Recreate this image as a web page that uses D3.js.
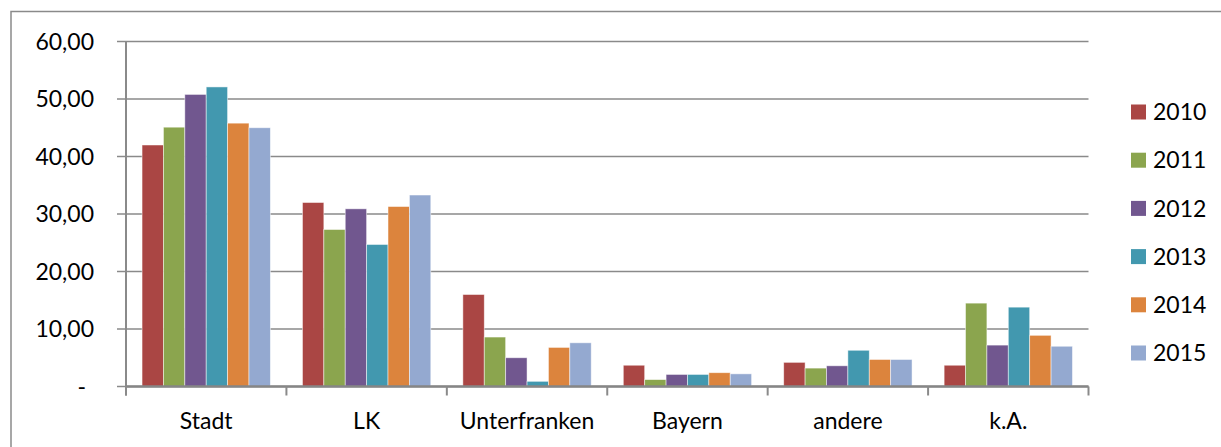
<!DOCTYPE html>
<html>
<head>
<meta charset="utf-8">
<script src="https://cdn.jsdelivr.net/npm/d3@7"></script>
<style>
  body { margin: 0; background: #fff; }
  svg text { font-family: Lato, "Open Sans", sans-serif; fill: #000; }
</style>
</head>
<body>
<div id="chart"></div>
<script>
// data
const categories = ["Stadt", "LK", "Unterfranken", "Bayern", "andere", "k.A."]
const years = ["2010", "2011", "2012", "2013", "2014", "2015"]
const v2010 = [42.0, 32.0, 16.0, 3.7, 4.2, 3.7]
const v2011 = [45.1, 27.3, 8.6, 1.2, 3.2, 14.5]
const v2012 = [50.8, 30.9, 5.0, 2.1, 3.6, 7.2]
const v2013 = [52.1, 24.7, 0.9, 2.1, 6.3, 13.8]
const v2014 = [45.8, 31.3, 6.8, 2.4, 4.7, 8.9]
const v2015 = [45.0, 33.3, 7.6, 2.2, 4.7, 7.0]
const yTicks = [0, 10, 20, 30, 40, 50, 60]
const colors = ["#AA4644", "#8BA54E", "#71578F", "#4298AF", "#DC843D", "#94A9D0"]

const series = [v2010, v2011, v2012, v2013, v2014, v2015]

const width = 1221, height = 447
const margin = {left: 126, right: 132.5, top: 41.5, bottom: 60.5}
const innerW = width - margin.left - margin.right
const innerH = height - margin.top - margin.bottom

let svg = d3.select("#chart")
    .append("svg")
    .attr("width", width)
    .attr("height", height)

// outer chart border
svg.append("rect")
    .attr("x", 11).attr("y", 11.5)
    .attr("width", width + 10).attr("height", height + 10)
    .attr("fill", "none")
    .attr("stroke", "#8a8a8a")
    .attr("stroke-width", 1.5)

let g = svg.append("g")
    .attr("transform", `translate(${margin.left}, ${margin.top})`)

let x0 = d3.scaleBand().domain(categories).range([0, innerW]).paddingInner(0.2).paddingOuter(0.1)
let x1 = d3.scaleBand().domain(years).range([0, x0.bandwidth()])
let y = d3.scaleLinear().domain([0, 60]).range([innerH, 0])

// gridlines with the little tick stubs left of the axis
g.append("g")
    .selectAll("line")
    .data(yTicks)
    .enter()
    .append("line")
    .attr("x1", -9).attr("x2", innerW)
    .attr("y1", d => y(d)).attr("y2", d => y(d))
    .attr("stroke", "#8a8a8a")
    .attr("stroke-width", 1.5)

// y labels
g.append("g")
    .selectAll("text")
    .data(yTicks)
    .enter()
    .append("text")
    .attr("x", d => d == 0 ? -40 : -32)
    .attr("y", d => y(d))
    .attr("dy", "0.36em")
    .attr("text-anchor", "end")
    .style("font-size", "23px")
    .text(d => d == 0 ? "-" : d3.format(".2f")(d).replace(".", ","))

// bars
let groups = g.append("g")
    .selectAll("g")
    .data(categories)
    .enter()
    .append("g")
    .attr("transform", d => `translate(${x0(d)}, 0)`)

groups.selectAll("rect")
    .data((c, i) => years.map((yr, j) => ({year: yr, value: series[j][i], color: colors[j]})))
    .enter()
    .append("rect")
    .attr("x", d => x1(d.year))
    .attr("width", x1.bandwidth())
    .attr("y", d => y(d.value))
    .attr("height", d => innerH - y(d.value))
    .attr("fill", d => d.color)
    .attr("stroke", "#fff")
    .attr("stroke-opacity", 0.6)
    .attr("stroke-width", 0.8)

// y axis line
g.append("line")
    .attr("x1", 0).attr("x2", 0)
    .attr("y1", 0).attr("y2", innerH + 9)
    .attr("stroke", "#8a8a8a")
    .attr("stroke-width", 2)

// x axis line + category ticks
g.append("line")
    .attr("x1", 0).attr("x2", innerW)
    .attr("y1", innerH).attr("y2", innerH)
    .attr("stroke", "#868686")
    .attr("stroke-width", 2.5)

let step = innerW / categories.length
g.append("g")
    .selectAll("line")
    .data(d3.range(categories.length + 1))
    .enter()
    .append("line")
    .attr("x1", d => d * step).attr("x2", d => d * step)
    .attr("y1", innerH).attr("y2", innerH + 9)
    .attr("stroke", "#8a8a8a")
    .attr("stroke-width", 2)

g.append("g")
    .selectAll("text")
    .data(categories)
    .enter()
    .append("text")
    .attr("x", d => x0(d) + x0.bandwidth() / 2)
    .attr("y", innerH + 42)
    .attr("text-anchor", "middle")
    .style("font-size", "23px")
    .text(d => d)

// legend
let legend = svg.append("g")
    .selectAll("g")
    .data(years)
    .enter()
    .append("g")
    .attr("transform", (d, i) => `translate(1131, ${112 + i * 48.2})`)

legend.append("rect")
    .attr("x", 0).attr("y", -7.5)
    .attr("width", 15).attr("height", 15)
    .attr("fill", (d, i) => colors[i])

legend.append("text")
    .attr("x", 22)
    .attr("y", 0)
    .attr("dy", "0.36em")
    .style("font-size", "23px")
    .text(d => d)
</script>
</body>
</html>
